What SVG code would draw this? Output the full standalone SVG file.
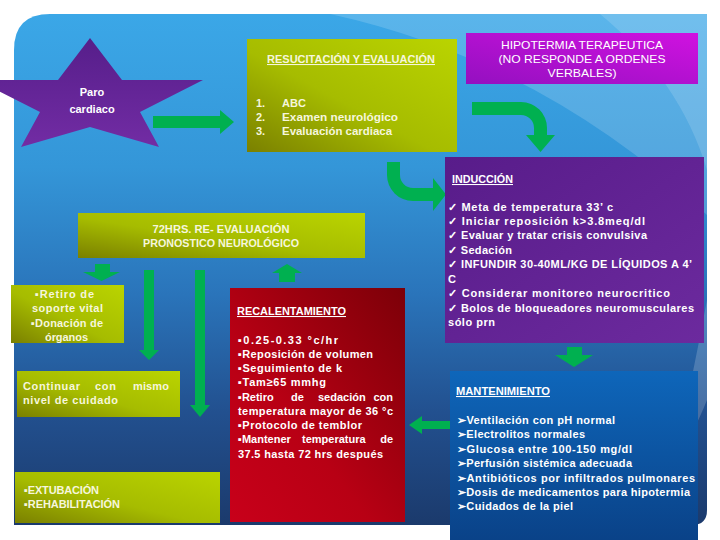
<svg xmlns="http://www.w3.org/2000/svg" width="720" height="540" viewBox="0 0 720 540">
<defs>
<linearGradient id="bg" x1="0" y1="0" x2="0" y2="1">
<stop offset="0" stop-color="#3ba7e7"/>
<stop offset="0.3" stop-color="#3496d8"/>
<stop offset="0.55" stop-color="#2a74ba"/>
<stop offset="0.78" stop-color="#22508f"/>
<stop offset="1" stop-color="#1b3a6c"/>
</linearGradient>
<linearGradient id="olive" x1="0" y1="1" x2="1" y2="0">
<stop offset="0" stop-color="#7a8000"/>
<stop offset="0.45" stop-color="#a6bc00"/>
<stop offset="1" stop-color="#bad400"/>
</linearGradient>
<linearGradient id="red" x1="1" y1="0" x2="0" y2="1">
<stop offset="0" stop-color="#7c0008"/>
<stop offset="0.6" stop-color="#b80014"/>
<stop offset="1" stop-color="#c8001a"/>
</linearGradient>
<linearGradient id="purple" x1="0" y1="0" x2="1" y2="1">
<stop offset="0" stop-color="#581c8a"/>
<stop offset="1" stop-color="#6c2a9e"/>
</linearGradient>
<linearGradient id="magenta" x1="0" y1="1" x2="1" y2="0">
<stop offset="0" stop-color="#9410c0"/>
<stop offset="1" stop-color="#d012e0"/>
</linearGradient>
<linearGradient id="blue" x1="0" y1="0" x2="0" y2="1">
<stop offset="0" stop-color="#0e66ba"/>
<stop offset="1" stop-color="#0a4288"/>
</linearGradient>
<linearGradient id="star" x1="0" y1="0" x2="0" y2="1">
<stop offset="0" stop-color="#561e8a"/>
<stop offset="1" stop-color="#722ca4"/>
</linearGradient>
<style>
text{font-family:"Liberation Sans",Arial,sans-serif;}
.w{fill:#ffffff;font-size:11px;font-weight:bold;}
.c{fill:#f6f6dc;font-size:11px;font-weight:bold;}
.t{font-size:10.5px;text-decoration:underline;}
.h{fill:#ffffff;font-size:11.5px;}
.arr{fill:#00b050;}
</style>
</defs>

<g id="background">
<path d="M14,50 Q14,14 50,14 L707,14 L707,510 Q707,525 692,525 L14,525 Z" fill="url(#bg)"/>
<path d="M330,14 Q540,60 707,215 L707,14 Z" fill="#ffffff" opacity="0.16"/>
<path d="M600,14 Q680,80 707,170 L707,14 Z" fill="#ffffff" opacity="0.14"/>
<path d="M707,300 Q690,390 672,470 Q695,430 707,400 Z" fill="#ffffff" opacity="0.18"/>
</g>

<g id="connectors">
<path class="arr" d="M153,116 L220,116 L220,110 L234,122 L220,134 L220,128 L153,128 Z"/>
<path class="arr" d="M472,102 L521,102 A26,26 0 0 1 547,128 L547,135 L555,135 L540.5,152 L526,135 L534,135 L534,128 A13,13 0 0 0 521,115 L472,115 Z"/>
<path class="arr" d="M387,162 L400,162 L400,175 A13,13 0 0 0 413,188 L433,188 L433,178 L446,194.5 L433,211 L433,201 L413,201 A26,26 0 0 1 387,175 Z"/>
<path class="arr" d="M95,264 L110,264 L110,272 L120,272 L101.5,281 L83,272 L95,272 Z"/>
<path class="arr" d="M144,270 L154,270 L154,350 L159,350 L149,360 L139,350 L144,350 Z"/>
<path class="arr" d="M195,270 L205,270 L205,405 L210,405 L200,417 L190,405 L195,405 Z"/>
<path class="arr" d="M279,282 L295,282 L295,273 L302,273 L287,264 L272,273 L279,273 Z"/>
<path class="arr" d="M567,347 L582,347 L582,355 L593,355 L574,367 L555,355 L567,355 Z"/>
<path class="arr" d="M450,421 L422,421 L422,416 L409,425 L422,434 L422,429 L450,429 Z"/>
</g>

<g id="paro">
<polygon points="90,38 122,80 203,80 140,112 159,147 90,127 21,147 40,112 -23,80 58,80" fill="url(#star)"/>
<text class="w" x="92" y="96" text-anchor="middle" font-size="12">Paro</text>
<text class="w" x="92" y="113" text-anchor="middle" font-size="12">cardiaco</text>
</g>

<g id="resucitacion">
<rect x="247" y="39" width="210" height="113" fill="url(#olive)"/>
<text class="c t" x="351" y="63" text-anchor="middle" font-weight="normal" textLength="168" lengthAdjust="spacingAndGlyphs">RESUCITACIÓN Y EVALUACIÓN</text>
<text class="c" x="256" y="107">1.</text>
<text class="c" x="282" y="107">ABC</text>
<text class="c" x="256" y="121">2.</text>
<text class="c" x="282" y="121" textLength="116" lengthAdjust="spacingAndGlyphs">Examen  neurológico</text>
<text class="c" x="256" y="135">3.</text>
<text class="c" x="282" y="135" textLength="110" lengthAdjust="spacingAndGlyphs">Evaluación cardiaca</text>
</g>

<g id="hipotermia">
<rect x="466" y="33" width="232" height="51" fill="url(#magenta)"/>
<text class="h" x="582" y="49" text-anchor="middle" textLength="162" lengthAdjust="spacingAndGlyphs">HIPOTERMIA TERAPEUTICA</text>
<text class="h" x="582" y="63" text-anchor="middle" textLength="167" lengthAdjust="spacingAndGlyphs">(NO RESPONDE A ORDENES</text>
<text class="h" x="582" y="77" text-anchor="middle" textLength="69" lengthAdjust="spacingAndGlyphs">VERBALES)</text>
</g>

<g id="induccion">
<rect x="445" y="157" width="259" height="186" fill="url(#purple)"/>
<text class="w t" x="452" y="183" font-weight="normal" textLength="61" lengthAdjust="spacingAndGlyphs">INDUCCIÓN</text>
<text class="w" x="448" y="211" textLength="165" lengthAdjust="spacing">✓ Meta de temperatura 33’ c</text>
<text class="w" x="448" y="225" textLength="197" lengthAdjust="spacing">✓ Iniciar reposición k&gt;3.8meq/dl</text>
<text class="w" x="448" y="239" textLength="199" lengthAdjust="spacing">✓ Evaluar y tratar crisis convulsiva</text>
<text class="w" x="448" y="254" textLength="64" lengthAdjust="spacing">✓ Sedación</text>
<text class="w" x="448" y="268" textLength="244" lengthAdjust="spacing">✓ INFUNDIR 30-40ML/KG DE LÍQUIDOS A 4’</text>
<text class="w" x="448" y="283">C</text>
<text class="w" x="448" y="297" textLength="222" lengthAdjust="spacing">✓ Considerar monitoreo neurocritico</text>
<text class="w" x="448" y="312" textLength="246" lengthAdjust="spacing">✓ Bolos de bloqueadores neuromusculares</text>
<text class="w" x="448" y="326" textLength="47" lengthAdjust="spacing">sólo prn</text>
</g>

<g id="reevaluacion">
<rect x="78" y="213" width="287" height="45" fill="url(#olive)"/>
<text class="c" x="221" y="233" text-anchor="middle" font-weight="normal" textLength="137" lengthAdjust="spacingAndGlyphs">72HRS. RE- EVALUACIÓN</text>
<text class="c" x="221" y="247" text-anchor="middle" font-weight="normal" textLength="156" lengthAdjust="spacingAndGlyphs">PRONOSTICO NEUROLÓGICO</text>
</g>

<g id="retiro">
<rect x="11" y="285" width="113" height="58" fill="url(#olive)"/>
<text class="c" x="35" y="298" textLength="59" lengthAdjust="spacing">▪Retiro de</text>
<text class="c" x="32" y="312" textLength="71" lengthAdjust="spacing">soporte vital</text>
<text class="c" x="31" y="327" textLength="72" lengthAdjust="spacing">▪Donación de</text>
<text class="c" x="45" y="341" textLength="43" lengthAdjust="spacing">órganos</text>
</g>

<g id="continuar">
<rect x="17" y="371" width="163" height="46" fill="url(#olive)"/>
<text class="c" x="23" y="390" textLength="57" lengthAdjust="spacing">Continuar</text>
<text class="c" x="95" y="390" textLength="21" lengthAdjust="spacing">con</text>
<text class="c" x="133" y="390" textLength="36" lengthAdjust="spacing">mismo</text>
<text class="c" x="23" y="404" textLength="95" lengthAdjust="spacing">nivel  de cuidado</text>
</g>

<g id="extubacion">
<rect x="15" y="472" width="205" height="51" fill="url(#olive)"/>
<text class="c" x="24" y="494" textLength="75" lengthAdjust="spacing">▪EXTUBACIÓN</text>
<text class="c" x="24" y="508" textLength="96" lengthAdjust="spacing">▪REHABILITACIÓN</text>
</g>

<g id="recalentamiento">
<rect x="230" y="288" width="175" height="234" fill="url(#red)"/>
<text class="w t" x="237" y="315" font-weight="normal" textLength="109" lengthAdjust="spacingAndGlyphs">RECALENTAMIENTO</text>
<text class="w" x="238" y="344" textLength="100" lengthAdjust="spacing">▪0.25-0.33 °c/hr</text>
<text class="w" x="238" y="358" textLength="135" lengthAdjust="spacing">▪Reposición de volumen</text>
<text class="w" x="238" y="372" textLength="104" lengthAdjust="spacing">▪Seguimiento de  k</text>
<text class="w" x="238" y="386" textLength="88" lengthAdjust="spacing">▪Tam≥65 mmhg</text>
<text class="w" x="238" y="401">▪Retiro</text>
<text class="w" x="291" y="401">de</text>
<text class="w" x="318" y="401">sedación</text>
<text class="w" x="393" y="401" text-anchor="end">con</text>
<text class="w" x="238" y="415" textLength="155" lengthAdjust="spacing">temperatura mayor de 36 °c</text>
<text class="w" x="238" y="429" textLength="124" lengthAdjust="spacing">▪Protocolo de temblor</text>
<text class="w" x="238" y="443">▪Mantener</text>
<text class="w" x="302" y="443">temperatura</text>
<text class="w" x="393" y="443" text-anchor="end">de</text>
<text class="w" x="238" y="458" textLength="145" lengthAdjust="spacing">37.5 hasta 72 hrs después</text>
</g>

<g id="mantenimiento">
<rect x="450" y="371" width="248" height="169" fill="url(#blue)"/>
<text class="w t" x="456" y="395" font-weight="normal" textLength="94" lengthAdjust="spacingAndGlyphs">MANTENIMIENTO</text>
<text class="w" x="457" y="424" textLength="158" lengthAdjust="spacing">➢Ventilación con pH normal</text>
<text class="w" x="457" y="438" textLength="128" lengthAdjust="spacing">➢Electrolitos normales</text>
<text class="w" x="457" y="453" textLength="175" lengthAdjust="spacing">➢Glucosa entre 100-150 mg/dl</text>
<text class="w" x="457" y="467" textLength="175" lengthAdjust="spacing">➢Perfusión sistémica adecuada</text>
<text class="w" x="457" y="482" textLength="238" lengthAdjust="spacing">➢Antibióticos por infiltrados pulmonares</text>
<text class="w" x="457" y="496" textLength="233" lengthAdjust="spacing">➢Dosis de medicamentos para hipotermia</text>
<text class="w" x="457" y="510" textLength="116" lengthAdjust="spacing">➢Cuidados de la piel</text>
</g>
</svg>
